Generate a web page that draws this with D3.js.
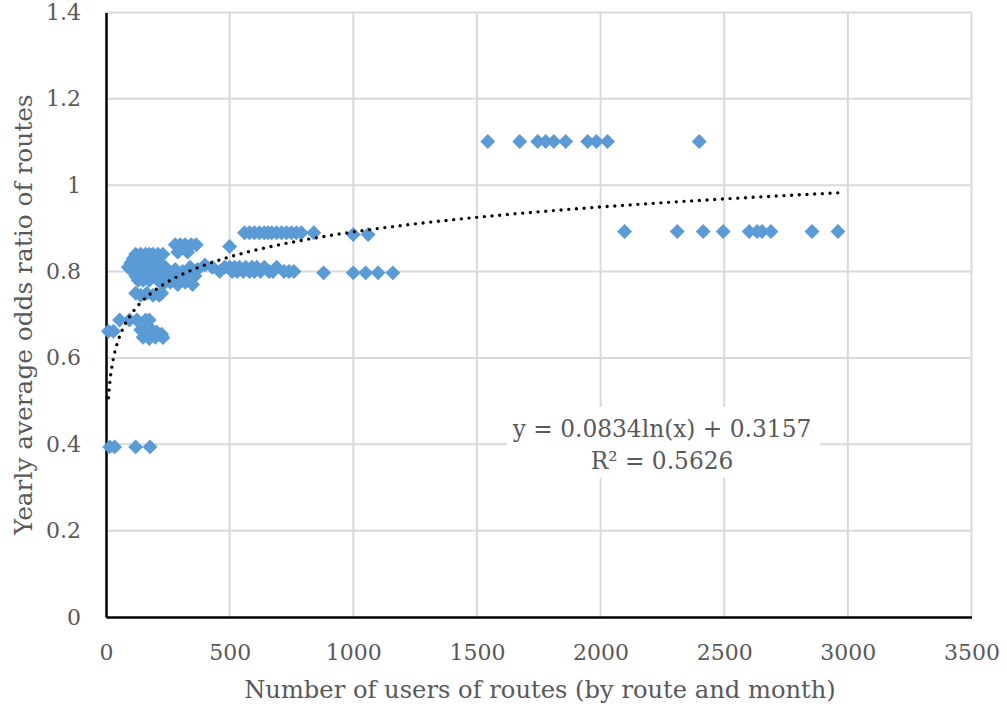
<!DOCTYPE html>
<html>
<head>
<meta charset="utf-8">
<script src="https://cdn.jsdelivr.net/npm/d3@7"></script>
<style>
  body { margin: 0; background: #fff; }
  text { font-family: "DejaVu Serif", "Liberation Serif", serif; fill: #595959; }
</style>
</head>
<body>
<div id="app"></div>
<script>
// users per route and month (x) and yearly average odds ratio (y)
const users = [
  15, 35, 120, 178,
  10, 30,
  55, 95, 125, 160, 175,
  140, 160, 185, 205, 225, 150, 175, 200, 230,
  120, 140, 165, 190, 215, 225,
  120, 140, 160, 175, 190, 210, 230,
  110, 150, 200,
  100, 130, 170, 215,
  90, 120, 150, 185, 205, 240,
  110, 140, 165, 195, 225,
  120, 160, 190, 240,
  130, 150, 175, 210,
  230, 260, 290, 320, 350, 260, 300, 330, 360,
  280, 300, 320, 345, 365, 500, 290, 330,
  250, 280, 310, 340, 370, 400, 430, 460, 480,
  500, 520, 540, 565, 590, 610, 640, 690,
  510, 530, 555, 580, 600, 625, 660, 675, 720, 740, 760, 880, 1000, 1050, 1100, 1160,
  560, 580, 600, 620, 640, 655, 670, 690, 710, 730, 750, 770, 790, 840, 1000, 1060,
  1544, 1673, 1746, 1778, 1811, 1859, 1948, 1983, 2028, 2399,
  2097, 2310, 2415, 2496, 2601, 2633, 2653, 2689, 2855, 2960
];
const odds = [
  0.394, 0.394, 0.394, 0.394,
  0.662, 0.662,
  0.688, 0.688, 0.688, 0.688, 0.688,
  0.665, 0.66, 0.665, 0.66, 0.655, 0.648, 0.645, 0.648, 0.647,
  0.75, 0.745, 0.75, 0.745, 0.745, 0.75,
  0.84, 0.84, 0.84, 0.84, 0.84, 0.84, 0.84,
  0.83, 0.83, 0.83,
  0.82, 0.82, 0.82, 0.82,
  0.81, 0.81, 0.81, 0.81, 0.81, 0.81,
  0.80, 0.80, 0.80, 0.80, 0.80,
  0.79, 0.79, 0.79, 0.79,
  0.78, 0.78, 0.78, 0.78,
  0.77, 0.775, 0.77, 0.775, 0.77, 0.79, 0.79, 0.795, 0.79,
  0.862, 0.862, 0.862, 0.862, 0.862, 0.858, 0.845, 0.845,
  0.80, 0.805, 0.80, 0.81, 0.805, 0.815, 0.81, 0.80, 0.81,
  0.81, 0.81, 0.81, 0.81, 0.81, 0.81, 0.81, 0.81,
  0.80, 0.80, 0.80, 0.80, 0.80, 0.80, 0.80, 0.80, 0.80, 0.80, 0.80, 0.797, 0.797, 0.797, 0.797, 0.797,
  0.89, 0.89, 0.89, 0.89, 0.89, 0.89, 0.89, 0.89, 0.89, 0.89, 0.89, 0.89, 0.89, 0.89, 0.886, 0.886,
  1.101, 1.101, 1.101, 1.101, 1.101, 1.101, 1.101, 1.101, 1.101, 1.101,
  0.893, 0.893, 0.893, 0.893, 0.893, 0.893, 0.893, 0.893, 0.893, 0.893
];
const xTicks = [0, 500, 1000, 1500, 2000, 2500, 3000, 3500];
const yTicks = [0, 0.2, 0.4, 0.6, 0.8, 1, 1.2, 1.4];
// logarithmic trendline as printed on the chart
const trendA = 0.0834, trendB = 0.3157;
const trendLabel = ["y = 0.0834ln(x) + 0.3157", "R² = 0.5626"];

const width = 1007, height = 710;
const x = d3.scaleLinear().domain([0, 3500]).range([106, 971.5]);
const y = d3.scaleLinear().domain([0, 1.4]).range([617, 12.5]);

const svg = d3.select("#app").append("svg")
    .attr("width", width)
    .attr("height", height)
    .attr("viewBox", [0, 0, width, height]);

// gridlines
svg.append("g")
  .selectAll("line")
  .data(xTicks.slice(1))
  .join("line")
    .attr("x1", d => x(d)).attr("x2", d => x(d))
    .attr("y1", y(0)).attr("y2", y(1.4))
    .attr("stroke", "#d9d9d9").attr("stroke-width", 2);
svg.append("g")
  .selectAll("line")
  .data(yTicks.slice(1))
  .join("line")
    .attr("x1", x(0)).attr("x2", x(3500))
    .attr("y1", d => y(d)).attr("y2", d => y(d))
    .attr("stroke", "#d9d9d9").attr("stroke-width", 2);

// axes
const xAxis = svg.append("g")
    .attr("transform", `translate(0,${y(0)})`)
    .call(d3.axisBottom(x).tickValues(xTicks).tickSize(0).tickPadding(27).tickFormat(d3.format("d")));
const yAxis = svg.append("g")
    .attr("transform", `translate(${x(0)},0)`)
    .call(d3.axisLeft(y).tickValues(yTicks).tickSize(0).tickPadding(25).tickFormat(d => String(d)));
[xAxis, yAxis].forEach(g => {
  g.select(".domain").attr("stroke", "#000").attr("stroke-width", 2.5);
  g.selectAll("text").attr("font-size", 22).attr("fill", "#595959")
    .attr("font-family", '"DejaVu Serif", serif');
});

// markers
const diamond = d3.symbol(d3.symbolSquare, 112);
svg.append("g")
  .selectAll("path")
  .data(users.map((u, i) => [u, odds[i]]))
  .join("path")
    .attr("d", diamond)
    .attr("transform", d => `translate(${x(d[0])},${y(d[1])}) rotate(45)`)
    .attr("fill", "#5b9bd5");

// trendline
const [xMin, xMax] = d3.extent(users);
const trend = d3.range(0, 301).map(i => {
  const u = xMin * Math.pow(xMax / xMin, i / 300);
  return [u, trendA * Math.log(u) + trendB];
});
svg.append("path")
    .attr("d", d3.line().x(d => x(d[0])).y(d => y(d[1]))(trend))
    .attr("fill", "none")
    .attr("stroke", "#000")
    .attr("stroke-width", 3.4)
    .attr("stroke-linecap", "round")
    .attr("stroke-dasharray", "0 7.7");

// equation label
const label = svg.append("g");
label.append("rect")
    .attr("x", 507).attr("y", 407).attr("width", 313).attr("height", 71)
    .attr("fill", "#fff");
label.selectAll("text")
  .data(trendLabel)
  .join("text")
    .attr("x", 662)
    .attr("y", (d, i) => 437 + i * 32)
    .attr("text-anchor", "middle")
    .attr("font-size", 23.3)
    .text(d => d);

// axis titles
svg.append("text")
    .attr("x", 540).attr("y", 698)
    .attr("text-anchor", "middle")
    .attr("font-size", 24.2)
    .text("Number of users of routes (by route and month)");
svg.append("text")
    .attr("transform", `translate(32,${(y(0) + y(1.4)) / 2}) rotate(-90)`)
    .attr("text-anchor", "middle")
    .attr("font-size", 24.8)
    .text("Yearly average odds ratio of routes");
</script>
</body>
</html>
